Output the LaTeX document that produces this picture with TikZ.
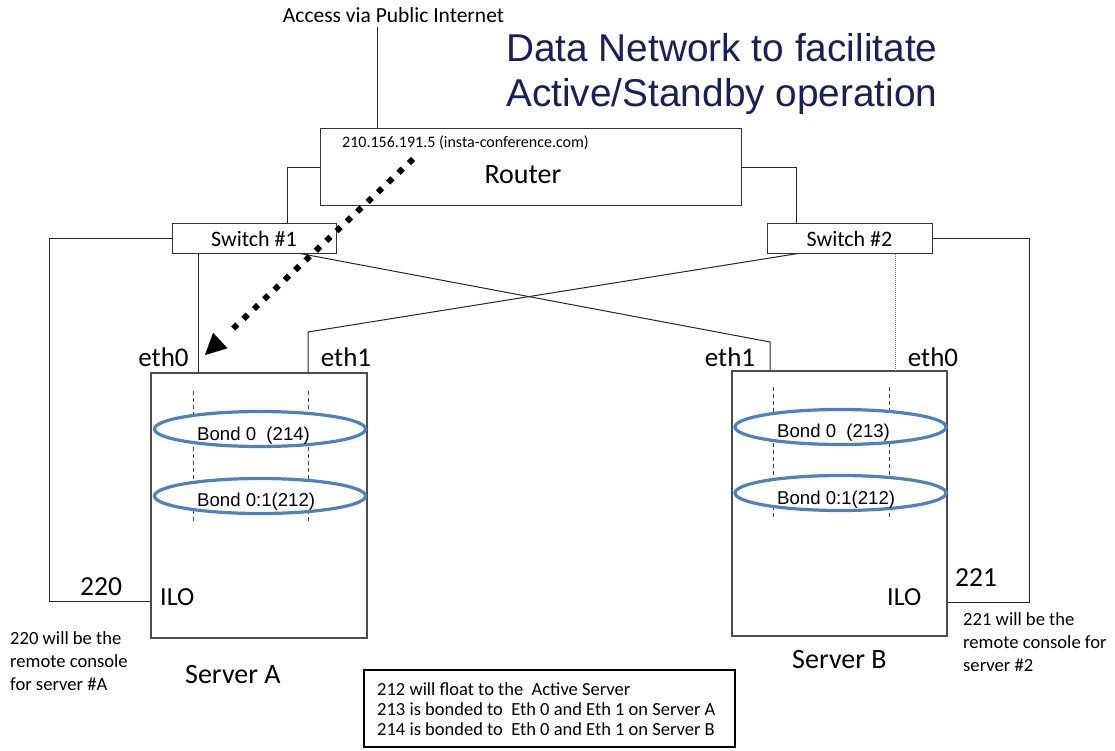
\documentclass[tikz,border=0pt]{standalone}
\usepackage{fontspec}
\setmainfont{Carlito}
\newfontfamily\arialfont{Liberation Sans}
\usetikzlibrary{shapes.geometric,arrows.meta,calc}
\definecolor{bondblue}{HTML}{4F81BD}
\definecolor{titleblue}{RGB}{28,30,88}
\newcommand\tsize[2]{\fontsize{#1}{#2}\selectfont}

\begin{document}
\begin{tikzpicture}[x=1pt,y=-1pt,
  box/.style={draw=black!80, line width=1pt, rectangle, inner sep=0pt},
  wire/.style={draw=black!85, line width=1pt},
  srv/.style={draw=black!70, line width=1.2pt, rectangle, inner sep=0pt},
  slot/.style={draw=black!75, line width=0.9pt, dash pattern=on 4pt off 3pt},
  bond/.style={ellipse, draw=bondblue, line width=3.2pt, fill=white, inner sep=0pt,
               minimum width=211pt, minimum height=35pt},
  bondtxt/.style={font=\arialfont\tsize{18.6}{22}, anchor=base west, inner sep=0pt},
  lbl/.style={inner sep=0pt, anchor=base west},
  port/.style={inner sep=0pt, anchor=base, font=\tsize{27}{27}},
  note/.style={inner sep=0pt, anchor=base west, font=\tsize{18.6}{23}},
  legend/.style={inner sep=0pt, anchor=base west, font=\tsize{18.5}{20}},
  dotmark/.style={diamond, fill=black, inner sep=0pt, minimum size=8.5pt},
]
\useasboundingbox (0,0) rectangle (1115,751);

% ---------- title and internet access ----------
\node[inner sep=0pt, font=\tsize{21.5}{22}] (inet) at (393.5,15) {Access via Public Internet};
\node[lbl, font=\arialfont\tsize{38.8}{38.8}, text=titleblue] (title1) at (506,62) {Data Network to facilitate};
\node[lbl, font=\arialfont\tsize{38.8}{38.8}, text=titleblue] (title2) at (506,107) {Active/Standby operation};

% ---------- router and switches ----------
\node[box, minimum width=421pt, minimum height=77pt] (router) at (530.5,167.5) {};
\node[lbl, font=\tsize{16}{16}] (ip) at (342,148) {210.156.191.5 (insta-conference.com)};
\node[inner sep=0pt, font=\tsize{28}{28}] (rname) at (523,175) {Router};

\node[box, minimum width=164pt, minimum height=29pt, font=\tsize{22}{22}] (sw1) at (254,238.5) {Switch \#1};
\node[box, minimum width=165pt, minimum height=29pt, font=\tsize{22}{22}] (sw2) at (849.5,238.5) {Switch \#2};

% ---------- servers ----------
\node[srv, minimum width=216pt, minimum height=265pt] (srvA) at (259,505.5) {};
\node[srv, minimum width=215pt, minimum height=265pt] (srvB) at (839.5,503.5) {};

% bonded interface slots inside the servers
\coordinate (sa0t) at (193,391); \coordinate (sa0b) at (193,522);
\coordinate (sa1t) at (308,391); \coordinate (sa1b) at (308,522);
\coordinate (sb1t) at (773,387); \coordinate (sb1b) at (773,519);
\coordinate (sb0t) at (889,387); \coordinate (sb0b) at (889,519);
\draw[slot] (sa0t) -- (sa0b);
\draw[slot] (sa1t) -- (sa1b);
\draw[slot] (sb1t) -- (sb1b);
\draw[slot] (sb0t) -- (sb0b);

\node[bond] (bondA0) at (260,429) {};
\node[bond] (bondA1) at (260,496) {};
\node[bond] (bondB0) at (840.5,427) {};
\node[bond] (bondB1) at (840.5,493) {};
\node[bondtxt] (tA0) at (197,440) {Bond 0\ \ (214)};
\node[bondtxt] (tA1) at (197,506.7) {Bond 0:1(212)};
\node[bondtxt] (tB0) at (777,437.3) {Bond 0\ \ (213)};
\node[bondtxt] (tB1) at (777,504.3) {Bond 0:1(212)};

% port names
\node[port] (eth0A) at (163.5,366.5) {eth0};
\node[port] (eth1A) at (346,366.5) {eth1};
\node[port] (eth1B) at (730,366.5) {eth1};
\node[port] (eth0B) at (933,366.5) {eth0};
\node[lbl, font=\tsize{26}{26}] (iloA) at (160,605) {ILO};
\node[lbl, font=\tsize{26}{26}] (iloB) at (887,605) {ILO};
\node[lbl, font=\tsize{27.5}{27.5}] (n220) at (80,595) {220};
\node[lbl, font=\tsize{27.5}{27.5}] (n221) at (955,586) {221};

\node[lbl, font=\tsize{28}{28}] (nameA) at (185,683) {Server A};
\node[lbl, font=\tsize{28}{28}] (nameB) at (792,668) {Server B};

% remote console notes
\node[note] (cA1) at (10,644) {220 will be the};
\node[note] (cA2) at (10,667) {remote console};
\node[note] (cA3) at (10,690) {for server \#A};
\node[note] (cB1) at (963,625) {221 will be the};
\node[note] (cB2) at (963,648) {remote console for};
\node[note] (cB3) at (963,671) {server \#2};

% ---------- connections ----------
\coordinate (inetfoot) at (377,27);
\draw[wire] (inetfoot) -- (inetfoot |- router.north);

\draw[wire] (router.west) -| ([xshift=33pt]sw1.north);
\draw[wire] (router.east) -| ([xshift=-53.5pt]sw2.north);

% eth0 of server A
\draw[wire] ([xshift=-56pt]sw1.south) -- ([xshift=-56pt]sw1.south |- srvA.north);
% crossing links to the eth1 ports
\coordinate (kinkB) at (770,342);
\coordinate (kinkA) at (308,332);
\draw[wire] ([xshift=46pt]sw1.south) -- (kinkB) -- (kinkB |- srvB.north);
\draw[wire] ([xshift=-51.5pt]sw2.south) -- (kinkA) -- (kinkA |- srvA.north);
% eth0 of server B
\draw[draw=black!55, line width=0.8pt, dash pattern=on 1pt off 1pt]
  ([xshift=45.5pt]sw2.south) -- ([xshift=45.5pt]sw2.south |- srvB.north);

% ILO links
\coordinate (cornerA) at (49,601);
\coordinate (cornerB) at (1029,602);
\draw[wire] (sw1.west) -| (cornerA) -- (cornerA -| srvA.west);
\draw[wire] (sw2.east) -| (cornerB) -- (cornerB -| srvB.east);

% public access path into server A: a chain of diamonds ending in an arrowhead
\coordinate (dStart) at (411,161);
\coordinate (dTip) at (205,355);
\foreach \k in {0,...,17}
  \node[dotmark] at ($(dStart)!\k*14.2pt!(dTip)$) {};
\draw[fill=black, line width=0.1pt, -{Triangle[length=21pt,width=21pt]}]
  ($(dTip)!20pt!(dStart)$) -- (dTip);

% ---------- legend ----------
\node[draw=black, line width=2.5pt, minimum width=371pt, minimum height=77pt, inner sep=0pt]
  (legend) at (549.5,708.5) {};
\node[legend] (lg1) at (377,695) {212 will float to the\ \ Active Server};
\node[legend] (lg2) at (377,715) {213 is bonded to\ \ Eth 0 and Eth 1 on Server A};
\node[legend] (lg3) at (377,735) {214 is bonded to\ \ Eth 0 and Eth 1 on Server B};
\end{tikzpicture}
\end{document}
